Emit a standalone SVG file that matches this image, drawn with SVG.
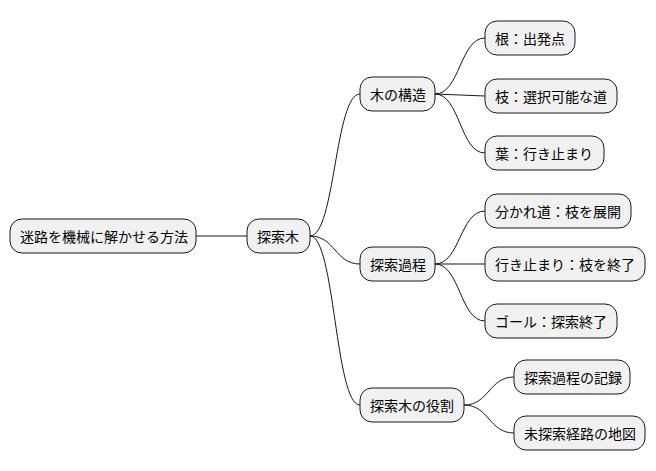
<svg xmlns="http://www.w3.org/2000/svg" width="656" height="471" viewBox="0 0 656 471">
<style>
.n rect{fill:#F1F1F1;stroke:#181818;stroke-width:1}
.n text{font-family:"Noto Sans CJK JP","Noto Sans",sans-serif;font-size:14px;fill:#000;dominant-baseline:central}
#c path{fill:none;stroke:#181818;stroke-width:1}
</style>
<rect width="656" height="471" fill="#fff"/>
<g id="c">
<path d="M196,236 L247,236"/>
<path d="M310,236 C335,236 335,94 360,94"/>
<path d="M310,236 C335,236 335,264 360,264"/>
<path d="M310,236 C335,236 335,405 360,405"/>
<path d="M435,94 C460,94 460,38 485,38"/>
<path d="M435,94 L485,96"/>
<path d="M435,94 C460,94 460,153 485,153"/>
<path d="M435,264 C460,264 460,211 485,211"/>
<path d="M435,264 L485,264"/>
<path d="M435,264 C460,264 460,321 485,321"/>
<path d="M464,405 C489,405 489,377 514,377"/>
<path d="M464,405 C489,405 489,433 514,433"/>
</g>
<g id="root" class="n"><rect x="10" y="219" width="186" height="34" rx="12"/><text x="20" y="236">迷路を機械に解かせる方法</text></g>
<g id="tree" class="n"><rect x="247" y="219" width="63" height="34" rx="12"/><text x="257" y="236">探索木</text></g>
<g id="struct" class="n"><rect x="360" y="77" width="75" height="34" rx="12"/><text x="370" y="94">木の構造</text></g>
<g id="root2" class="n"><rect x="485" y="21" width="90" height="34" rx="12"/><text x="495" y="38">根：出発点</text></g>
<g id="branch" class="n"><rect x="485" y="79" width="132" height="34" rx="12"/><text x="495" y="96">枝：選択可能な道</text></g>
<g id="leaf" class="n"><rect x="485" y="136" width="119" height="34" rx="12"/><text x="495" y="153">葉：行き止まり</text></g>
<g id="proc" class="n"><rect x="360" y="247" width="75" height="34" rx="12"/><text x="370" y="264">探索過程</text></g>
<g id="fork" class="n"><rect x="485" y="194" width="146" height="34" rx="12"/><text x="495" y="211">分かれ道：枝を展開</text></g>
<g id="dead" class="n"><rect x="485" y="247" width="160" height="34" rx="12"/><text x="495" y="264">行き止まり：枝を終了</text></g>
<g id="goal" class="n"><rect x="485" y="304" width="132" height="34" rx="12"/><text x="495" y="321">ゴール：探索終了</text></g>
<g id="role" class="n"><rect x="360" y="388" width="104" height="34" rx="12"/><text x="370" y="405">探索木の役割</text></g>
<g id="rec" class="n"><rect x="514" y="360" width="116" height="34" rx="12"/><text x="524" y="377">探索過程の記録</text></g>
<g id="map" class="n"><rect x="514" y="416" width="131" height="34" rx="12"/><text x="524" y="433">未探索経路の地図</text></g>
</svg>
